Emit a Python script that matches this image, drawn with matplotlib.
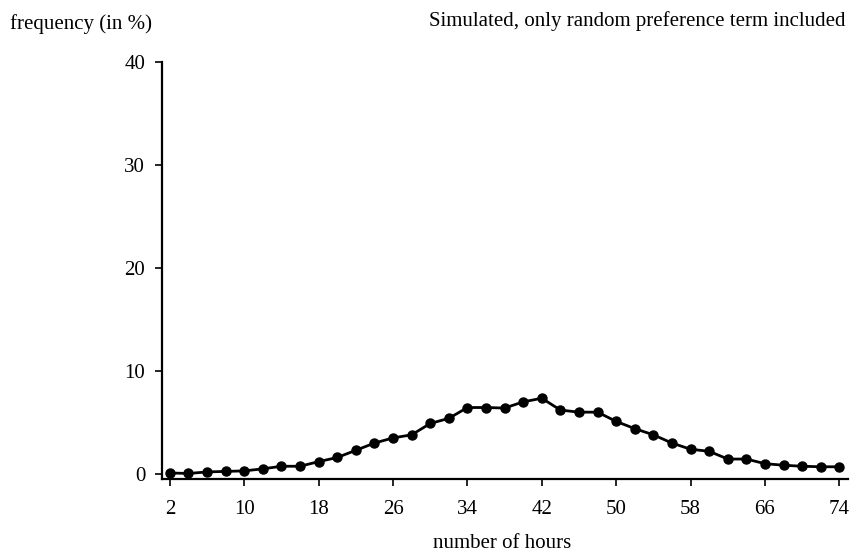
import numpy as np
import matplotlib
matplotlib.use("Agg")
import matplotlib.pyplot as plt

# simulated distribution of working hours
hours = np.arange(2, 76, 2)
freq = [0.1, 0.05, 0.2, 0.25, 0.3, 0.5, 0.75, 0.75, 1.2, 1.6,
        2.3, 3.0, 3.5, 3.8, 4.9, 5.4, 6.45, 6.45, 6.4, 7.0,
        7.35, 6.2, 6.0, 6.0, 5.1, 4.4, 3.8, 3.0, 2.4, 2.2,
        1.45, 1.45, 1.0, 0.85, 0.75, 0.7, 0.7]
xticks = [2, 10, 18, 26, 34, 42, 50, 58, 66, 74]
yticks = [0, 10, 20, 30, 40]

plt.rcParams['font.family'] = ['Liberation Serif', 'DejaVu Serif']

fig = plt.figure(figsize=(8.52, 5.52), dpi=100)
ax = fig.add_axes([0.190, 0.132, 0.805, 0.756])

ax.plot(hours, freq, color='black', lw=2, marker='o', ms=6.5)

ax.set_xlim(1.14, 74.9)
ax.set_ylim(-0.5, 40)
ax.set_xticks(xticks)
ax.set_yticks(yticks)
ax.tick_params(axis='both', labelsize=15, direction='out', length=5, width=1.2, color='black')
ax.tick_params(axis='x', pad=10)
ax.tick_params(axis='y', pad=7)

ax.spines['top'].set_visible(False)
ax.spines['right'].set_visible(False)
ax.spines['left'].set_linewidth(1.6)
ax.spines['bottom'].set_linewidth(1.6)

fig.text(0.012, 0.957, 'frequency (in %)', fontsize=15, ha='left', va='center')
fig.text(0.992, 0.962, 'Simulated, only random preference term included', fontsize=15, ha='right', va='center')
fig.text(0.589, 0.016, 'number of hours', fontsize=15, ha='center', va='center')

plt.savefig('out.png', dpi=100)
